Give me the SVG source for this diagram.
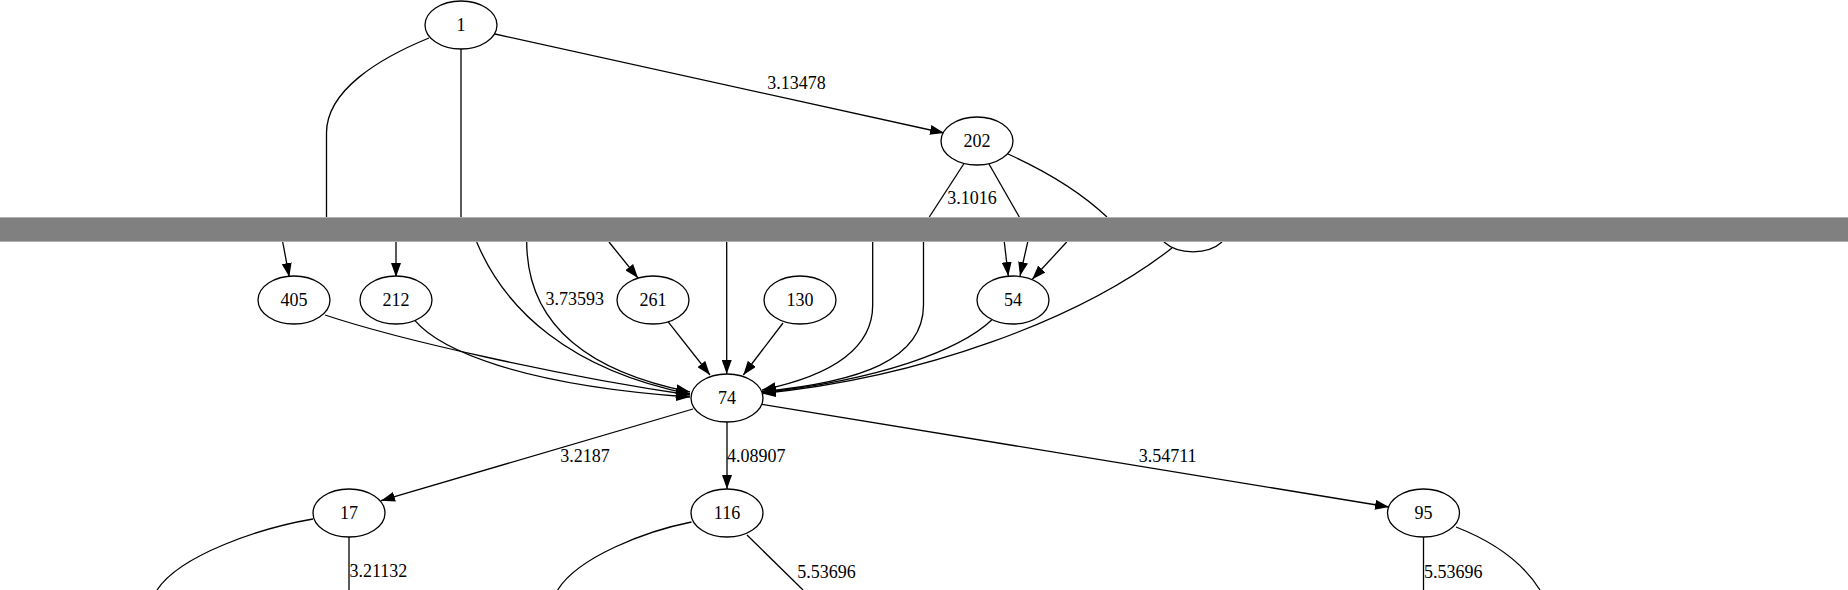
<svg xmlns="http://www.w3.org/2000/svg" width="1848" height="590" viewBox="0 0 1848 590">
<style>
.n ellipse,.n path{fill:#fff;stroke:#000;stroke-width:1.3}
.e path{fill:none;stroke:#000;stroke-width:1.3}
.e path.a{marker-end:url(#ah)}
text{font-family:"Liberation Serif","Times New Roman",serif;font-size:18px;fill:#000}
.n text{text-anchor:middle}
.lbl{text-anchor:middle}
.lbs{text-anchor:start}
</style>
<defs>
<marker id="ah" viewBox="0 0 14 10" refX="14" refY="5" markerWidth="14" markerHeight="10" markerUnits="userSpaceOnUse" orient="auto">
<path d="M0,0 L14,5 L0,10 z" fill="#000"/>
</marker>
</defs>
<rect width="1848" height="590" fill="#fff"/>
<g id="edges" class="e">
<path class="a" d="M495,34 L944,133"/>
<path d="M429,38 C380,58 326.5,90 326.5,133 L326.5,217"/>
<path d="M461,49 L461,217"/>
<path d="M963.7,164 L929.3,217"/>
<path d="M989,164 L1019.3,217"/>
<path d="M1008,154 Q1070,182 1107,217"/>
<path class="a" d="M282.7,242 L289.3,277"/>
<path class="a" d="M396,242 L396,277"/>
<path class="a" d="M476.7,242 C505,310 570,370 690,394"/>
<path class="a" d="M526.7,242 C527,320 580,370 690,392"/>
<path class="a" d="M609,242 L638,278"/>
<path class="a" d="M726.7,242 L726.7,374"/>
<path class="a" d="M872.7,242 L872.7,305 C872.7,355 820,378 762,390"/>
<path class="a" d="M923.5,242 L923.5,305 C923.5,360 860,382 762,391.5"/>
<path class="a" d="M991.7,320 C960,350 880,380 762,392.5"/>
<path class="a" d="M1172,248 C1080,320 920,378 762,393.5"/>
<path class="a" d="M325,315 C400,340 560,376 690,395"/>
<path class="a" d="M415,320.7 C440,350 520,385 690,397"/>
<path class="a" d="M668,321.7 L710,375"/>
<path class="a" d="M783,323 L743.3,375"/>
<path class="a" d="M1004.3,242 L1008.3,276"/>
<path class="a" d="M1027.7,242 L1020,276"/>
<path class="a" d="M1066.7,242 L1032.3,279.3"/>
<path class="a" d="M693,409 L381,500.7"/>
<path class="a" d="M727,422 L727,489"/>
<path class="a" d="M761.7,404.3 L1389,507"/>
<path d="M349,537 L349,590"/>
<path d="M313,519 C260,528 180,555 157,590"/>
<path d="M691.5,522 C646,531 578,557 557.6,590"/>
<path d="M747,535 L803,590"/>
<path d="M1423.5,537 L1423.5,590"/>
<path d="M1456,527 Q1515,550 1540,590"/>
</g>
<g id="edge-labels">
<text class="lbl" x="796.5" y="88.5">3.13478</text>
<text class="lbl" x="972" y="204">3.1016</text>
<text class="lbl" x="574.7" y="305">3.73593</text>
<text class="lbl" x="585" y="461.7">3.2187</text>
<text class="lbs" x="727" y="461.7">4.08907</text>
<text class="lbl" x="1167.6" y="461.7">3.54711</text>
<text class="lbs" x="349.5" y="577">3.21132</text>
<text class="lbl" x="826.5" y="578">5.53696</text>
<text class="lbs" x="1424" y="578">5.53696</text>
</g>
<g id="node-1" class="n"><ellipse cx="461" cy="25" rx="36" ry="24"/><text x="461" y="31">1</text></g>
<g id="node-202" class="n"><ellipse cx="977" cy="141" rx="36" ry="24"/><text x="977" y="147">202</text></g>
<g id="node-hidden" class="n"><path d="M1164,242 A36,24 0 0 0 1222,242"/></g>
<g id="bar">
<rect x="0" y="217" width="1848" height="25" fill="#808080"/>
<line x1="0" y1="217.5" x2="1848" y2="217.5" stroke="#b0b0b0" stroke-width="1"/>
<line x1="0" y1="241.5" x2="1848" y2="241.5" stroke="#b0b0b0" stroke-width="1"/>
</g>
<g id="node-405" class="n"><ellipse cx="294" cy="300" rx="36" ry="24"/><text x="294" y="306">405</text></g>
<g id="node-212" class="n"><ellipse cx="396" cy="300" rx="36" ry="24"/><text x="396" y="306">212</text></g>
<g id="node-261" class="n"><ellipse cx="653" cy="300" rx="36" ry="24"/><text x="653" y="306">261</text></g>
<g id="node-130" class="n"><ellipse cx="800" cy="300" rx="36" ry="24"/><text x="800" y="306">130</text></g>
<g id="node-54" class="n"><ellipse cx="1013" cy="300" rx="36" ry="24"/><text x="1013" y="306">54</text></g>
<g id="node-74" class="n"><ellipse cx="727" cy="398" rx="36" ry="24"/><text x="727" y="404">74</text></g>
<g id="node-17" class="n"><ellipse cx="349" cy="513" rx="36" ry="24"/><text x="349" y="519">17</text></g>
<g id="node-116" class="n"><ellipse cx="727" cy="513" rx="36" ry="24"/><text x="727" y="519">116</text></g>
<g id="node-95" class="n"><ellipse cx="1423.5" cy="513" rx="36" ry="24"/><text x="1423.5" y="519">95</text></g>
</svg>
